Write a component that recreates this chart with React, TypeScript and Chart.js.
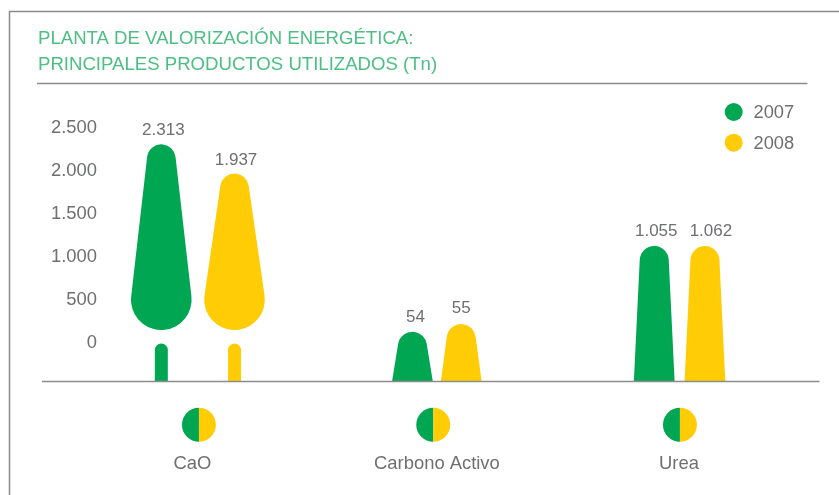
import React, { useEffect, useRef } from "react";
import { Chart, registerables } from "chart.js";

Chart.register(...registerables);

const categories = ["CaO", "Carbono Activo", "Urea"];
const seriesNames = ["2007", "2008"];
const yTicks = [0, 500, 1000, 1500, 2000, 2500];

// printed values
const printed2007 = [2313, 54, 1055];
const printed2008 = [1937, 55, 1062];
// heights of the drawn silhouettes, read on the y axis (the original is decorative and not to scale)
const drawn2007 = [2293, 114, 1110];
const drawn2008 = [1953, 203, 1110];

const GREEN = "#00A651";
const YELLOW = "#FFCC05";
const TEXT = "#6E6F71";
const RULE = "#8C8C8C";
const TITLE = "#4DBE84";
const FONT = "'Liberation Sans', Arial, sans-serif";

const fmt = (v: number) => String(v).replace(/\B(?=(\d{3})+$)/g, ".");

// layout of marks relative to each category's axis position
const markOffset = [
  [-36.6, -26.5, -25.7],
  [36.6, 22.3, 25],
];
const labelNudge = [
  [2, 3, 2],
  [1.5, 0, 6],
];
const labelLift = [
  [14, 14.5, 14.5],
  [13, 16, 14.5],
];
const catLabelNudge = [-5.5, -2, -1];
const circleNudge = [1, -5.7, 0];

function taperPath(ctx: CanvasRenderingContext2D, cx: number, top: number, base: number, r: number, hw: number) {
  const cy = top + r;
  const h = base - cy;
  const D = Math.hypot(hw, h);
  const t = Math.atan2(h, hw) - Math.acos(r / D);
  ctx.beginPath();
  ctx.arc(cx, cy, r, Math.PI - t, t, false);
  ctx.lineTo(cx + hw, base);
  ctx.lineTo(cx - hw, base);
  ctx.closePath();
  ctx.fill();
}

function bulbPath(ctx: CanvasRenderingContext2D, cx: number, top: number, bulbY: number, r1: number, r2: number) {
  const y1 = top + r1;
  const a = Math.asin((r2 - r1) / (bulbY - y1));
  ctx.beginPath();
  ctx.arc(cx, y1, r1, Math.PI + a, -a, false);
  ctx.arc(cx, bulbY, r2, -a, Math.PI + a, false);
  ctx.closePath();
  ctx.fill();
}

const shapePlugin = {
  id: "shapes",
  beforeDatasetDraw(chart: any, args: any) {
    const ctx: CanvasRenderingContext2D = chart.ctx;
    const base = chart.scales.x.top;
    const i = args.index;
    ctx.save();
    ctx.fillStyle = chart.data.datasets[i].backgroundColor;
    args.meta.data.forEach((el: any, j: number) => {
      const cx = el.x + markOffset[i][j];
      if (j === 0) {
        bulbPath(ctx, cx, el.y, 299.7, 14.3, 30.3);
        // detached stem
        const sx = cx - 6.5;
        ctx.beginPath();
        ctx.roundRect(sx, 343.5, 13, base - 343.5, [6.5, 6.5, 0, 0]);
        ctx.fill();
      } else {
        taperPath(ctx, cx, el.y, base, 14.5, 20.4);
      }
    });
    ctx.restore();
    return false;
  },
  afterDatasetsDraw(chart: any) {
    const ctx: CanvasRenderingContext2D = chart.ctx;
    ctx.save();
    ctx.fillStyle = TEXT;
    ctx.textBaseline = "middle";
    ctx.textAlign = "center";
    ctx.font = `17px ${FONT}`;
    [printed2007, printed2008].forEach((values, i) => {
      const meta = chart.getDatasetMeta(i);
      values.forEach((v, j) => {
        const el = meta.data[j];
        ctx.fillText(fmt(v), el.x + markOffset[i][j] + labelNudge[i][j], el.y - labelLift[i][j]);
      });
    });
    // category markers and names
    categories.forEach((name, j) => {
      const x = chart.scales.x.getPixelForValue(j);
      const cx = x + circleNudge[j];
      ctx.fillStyle = GREEN;
      ctx.beginPath();
      ctx.arc(cx, 424.7, 17, Math.PI / 2, -Math.PI / 2, false);
      ctx.fill();
      ctx.fillStyle = YELLOW;
      ctx.beginPath();
      ctx.arc(cx, 424.7, 17, -Math.PI / 2, Math.PI / 2, false);
      ctx.fill();
      ctx.fillStyle = TEXT;
      ctx.font = `18.4px ${FONT}`;
      ctx.fillText(name, x + catLabelNudge[j], 463.5);
    });
    // legend
    ctx.textAlign = "left";
    ctx.font = `18.3px ${FONT}`;
    chart.data.datasets.forEach((d: any, i: number) => {
      const y = 112 + i * 30.7;
      ctx.fillStyle = d.backgroundColor;
      ctx.beginPath();
      ctx.arc(733.7, y, 9, 0, Math.PI * 2);
      ctx.fill();
      ctx.fillStyle = TEXT;
      ctx.fillText(d.label, 753.5, y + 1);
    });
    // frame, title rule and baseline
    ctx.strokeStyle = RULE;
    ctx.lineWidth = 1.5;
    ctx.beginPath();
    ctx.moveTo(9.5, 495);
    ctx.lineTo(9.5, 11.5);
    ctx.lineTo(839, 11.5);
    ctx.moveTo(37, 83.5);
    ctx.lineTo(807.5, 83.5);
    ctx.moveTo(42, 381.5);
    ctx.lineTo(819.5, 381.5);
    ctx.stroke();
    ctx.restore();
  },
};

export default function App() {
  const ref = useRef<HTMLCanvasElement>(null);
  useEffect(() => {
    const chart = new Chart(ref.current!, {
      type: "bar",
      data: {
        datasets: [
          {
            label: seriesNames[0],
            data: drawn2007.map((y, x) => ({ x, y })),
            backgroundColor: GREEN,
            grouped: false,
          },
          {
            label: seriesNames[1],
            data: drawn2008.map((y, x) => ({ x, y })),
            backgroundColor: YELLOW,
            grouped: false,
          },
        ] as any,
      },
      plugins: [shapePlugin as any],
      options: {
        responsive: false,
        animation: false,
        events: [],
        layout: { padding: { left: 38, right: 20, top: 0, bottom: 113.5 } },
        plugins: {
          legend: { display: false },
          tooltip: { enabled: false },
          title: {
            display: true,
            align: "start",
            text: [
              "PLANTA DE VALORIZACIÓN ENERGÉTICA:",
              "PRINCIPALES PRODUCTOS UTILIZADOS (Tn)",
            ],
            color: TITLE,
            font: { family: FONT, size: 18.6, weight: "normal", lineHeight: 26 / 18.6 },
            padding: { top: 25.5, bottom: 8.5 },
          },
        },
        scales: {
          x: {
            type: "linear",
            offset: false,
            min: -0.398,
            max: 2.577,
            afterFit: (s: any) => {
              s.height = 0;
            },
            grid: { display: false },
            ticks: { display: false },
            border: { display: false },
          },
          y: {
            min: -465,
            max: 2971,
            afterFit: (s: any) => {
              s.width = 64;
            },
            afterBuildTicks: (s: any) => {
              s.ticks = yTicks.map((value) => ({ value }));
            },
            grid: { display: false, drawTicks: false },
            border: { display: false },
            ticks: {
              color: TEXT,
              padding: 5,
              labelOffset: 1.5,
              font: { family: FONT, size: 18.4 },
              callback: (v: any) => fmt(Number(v)),
            },
          },
        },
      },
    } as any);
    return () => chart.destroy();
  }, []);
  return (
    <canvas
      ref={ref}
      width={839}
      height={495}
      style={{ position: "fixed", left: 0, top: 0, width: 839, height: 495 }}
    />
  );
}
